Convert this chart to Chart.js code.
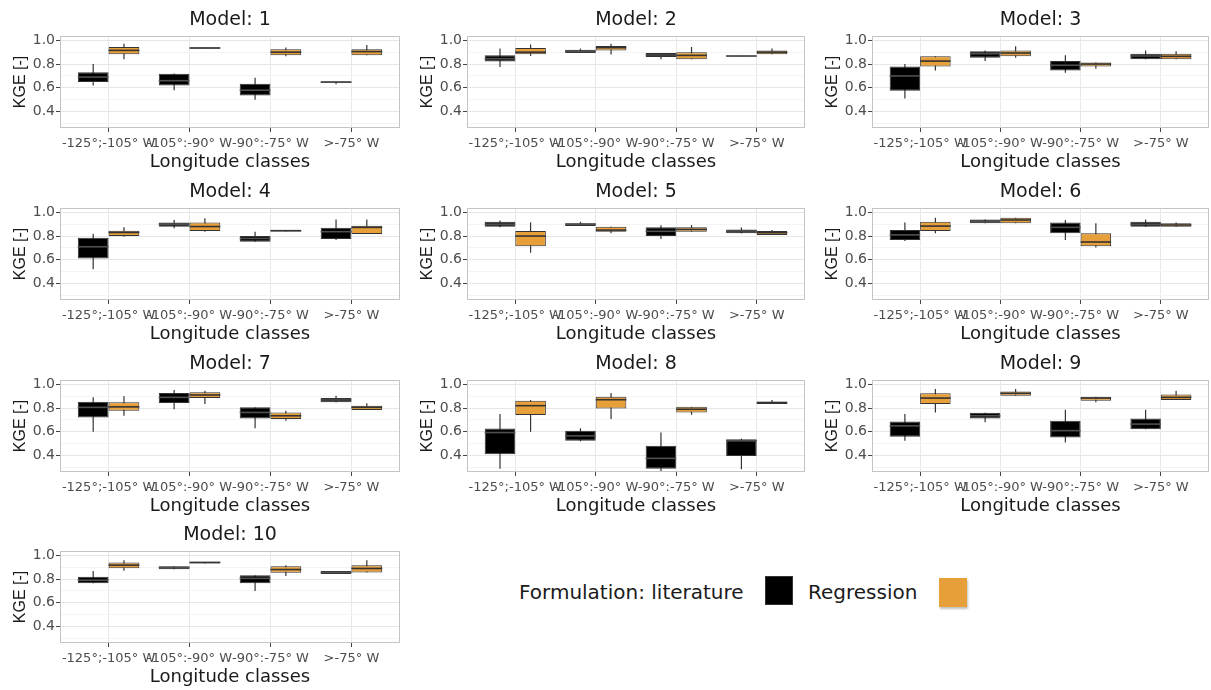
<!DOCTYPE html>
<html>
<head>
<meta charset="utf-8">
<script src="https://cdn.jsdelivr.net/npm/chart.js@4.4.0/dist/chart.umd.min.js"></script>
<style>
  body { margin: 0; width: 1211px; height: 690px; background: #fff; position: relative; overflow: hidden; font-family: 'DejaVu Sans', sans-serif; }
  canvas { position: absolute; }
  .lg-text { position: absolute; top: 578px; font-size: 20px; line-height: 28px; color: #1a1a1a; white-space: nowrap; }
  .lg-key { position: absolute; width: 28px; height: 29px; box-sizing: border-box; }
</style>
</head>
<body>
<div class="lg-text" style="left:519px">Formulation: literature</div>
<div class="lg-key" style="left:765px; top:576px; background:#000; border:1px solid #333"></div>
<div class="lg-text" style="left:808px">Regression</div>
<div class="lg-key" style="left:939px; top:578px; background:#E79F3A; box-shadow:1px 2px 2px rgba(0,0,0,0.25)"></div>

<script>
// Longitude classes (x axis) and models (panels)
const classes = ['-125°;-105° W', '-105°:-90° W', '-90°:-75° W', '>-75° W'];
const models = ['1', '2', '3', '4', '5', '6', '7', '8', '9', '10'];
const yTicks = [0.3, 0.4, 0.5, 0.6, 0.7, 0.8, 0.9, 1.0];

// Box statistics, one row per model, one value per longitude class
// Formulation: literature
const litMin = [
    [0.62, 0.58, 0.50, 0.63], [0.775, 0.893, 0.84, 0.862], [0.51, 0.825, 0.727, 0.84],
    [0.52, 0.865, 0.752, 0.766], [0.873, 0.885, 0.775, 0.823], [0.758, 0.907, 0.766, 0.879],
    [0.60, 0.79, 0.63, 0.848], [0.29, 0.52, 0.27, 0.285], [0.524, 0.68, 0.51, 0.622],
    [0.764, 0.883, 0.70, 0.842]
];
const litQ1 = [
    [0.648, 0.62, 0.535, 0.64], [0.822, 0.893, 0.859, 0.862], [0.575, 0.853, 0.746, 0.84],
    [0.611, 0.879, 0.752, 0.775], [0.879, 0.885, 0.80, 0.823], [0.766, 0.907, 0.823, 0.879],
    [0.72, 0.842, 0.713, 0.848], [0.411, 0.524, 0.29, 0.397], [0.558, 0.713, 0.552, 0.622],
    [0.764, 0.883, 0.764, 0.842]
];
const litMedian = [
    [0.69, 0.66, 0.58, 0.648], [0.845, 0.907, 0.876, 0.868], [0.70, 0.887, 0.79, 0.868],
    [0.71, 0.90, 0.78, 0.837], [0.90, 0.90, 0.84, 0.842], [0.81, 0.92, 0.873, 0.90],
    [0.806, 0.89, 0.763, 0.868], [0.594, 0.566, 0.377, 0.524], [0.65, 0.735, 0.61, 0.665],
    [0.79, 0.897, 0.806, 0.856]
];
const litQ3 = [
    [0.732, 0.718, 0.634, 0.655], [0.873, 0.921, 0.893, 0.872], [0.78, 0.907, 0.825, 0.887],
    [0.786, 0.915, 0.80, 0.87], [0.92, 0.907, 0.873, 0.856], [0.85, 0.94, 0.915, 0.92],
    [0.854, 0.927, 0.806, 0.884], [0.628, 0.608, 0.482, 0.538], [0.687, 0.76, 0.693, 0.713],
    [0.82, 0.908, 0.833, 0.867]
];
const litMax = [
    [0.80, 0.72, 0.685, 0.655], [0.93, 0.93, 0.893, 0.872], [0.80, 0.915, 0.873, 0.915],
    [0.82, 0.935, 0.837, 0.94], [0.93, 0.92, 0.89, 0.873], [0.915, 0.94, 0.935, 0.94],
    [0.89, 0.952, 0.806, 0.904], [0.75, 0.63, 0.594, 0.543], [0.75, 0.76, 0.786, 0.786],
    [0.867, 0.908, 0.833, 0.867]
];
// Formulation: Regression
const regMin = [
    [0.84, 0.93, 0.865, 0.873], [0.868, 0.88, 0.84, 0.882], [0.745, 0.853, 0.76, 0.84],
    [0.795, 0.837, 0.838, 0.817], [0.66, 0.823, 0.837, 0.808], [0.823, 0.907, 0.704, 0.879],
    [0.735, 0.834, 0.693, 0.783], [0.60, 0.707, 0.743, 0.834], [0.763, 0.904, 0.848, 0.868],
    [0.87, 0.93, 0.825, 0.856]
];
const regQ1 = [
    [0.882, 0.93, 0.873, 0.873], [0.882, 0.915, 0.84, 0.882], [0.78, 0.865, 0.78, 0.84],
    [0.80, 0.842, 0.838, 0.817], [0.715, 0.837, 0.837, 0.808], [0.842, 0.907, 0.715, 0.879],
    [0.777, 0.884, 0.707, 0.783], [0.741, 0.797, 0.763, 0.834], [0.834, 0.904, 0.862, 0.868],
    [0.89, 0.93, 0.853, 0.856]
];
const regMedian = [
    [0.915, 0.935, 0.90, 0.905], [0.90, 0.938, 0.873, 0.90], [0.825, 0.893, 0.80, 0.865],
    [0.83, 0.88, 0.845, 0.873], [0.80, 0.85, 0.856, 0.828], [0.884, 0.935, 0.75, 0.893],
    [0.81, 0.91, 0.735, 0.806], [0.82, 0.87, 0.79, 0.845], [0.884, 0.924, 0.884, 0.89],
    [0.917, 0.94, 0.88, 0.889]
];
const regQ3 = [
    [0.944, 0.94, 0.924, 0.924], [0.935, 0.952, 0.90, 0.915], [0.865, 0.915, 0.814, 0.887],
    [0.845, 0.913, 0.85, 0.887], [0.842, 0.879, 0.873, 0.842], [0.92, 0.955, 0.823, 0.907],
    [0.848, 0.932, 0.763, 0.82], [0.862, 0.896, 0.81, 0.856], [0.924, 0.94, 0.896, 0.913],
    [0.94, 0.944, 0.908, 0.917]
];
const regMax = [
    [0.97, 0.94, 0.94, 0.96], [0.965, 0.97, 0.944, 0.93], [0.865, 0.95, 0.814, 0.907],
    [0.873, 0.95, 0.85, 0.94], [0.915, 0.879, 0.893, 0.85], [0.955, 0.955, 0.907, 0.915],
    [0.90, 0.946, 0.777, 0.84], [0.868, 0.927, 0.81, 0.868], [0.96, 0.96, 0.896, 0.946],
    [0.958, 0.944, 0.917, 0.958]
];

// Panel layout (plot area position of each facet)
const colLeft = [60, 467, 872];
const colWidth = [340, 338, 337];
const rowTop = [36, 208, 380, 551];
const plotHeight = 92;
const yAxisWidth = 60, titleHeight = 36, xAxisHeight = 46;

const litColor = '#000000';
const regColor = '#E79F3A';

Chart.defaults.font.family = "'DejaVu Sans', sans-serif";
Chart.defaults.animation = false;

const isMajor = v => Math.round(v * 10) % 2 === 0;

// median line across every box
const medianPlugin = {
    id: 'medians',
    afterDatasetsDraw(chart) {
        const ctx = chart.ctx;
        const yScale = chart.scales.y;
        chart.data.datasets.forEach((ds, i) => {
            if (!ds.medians) return;
            chart.getDatasetMeta(i).data.forEach((bar, j) => {
                const py = yScale.getPixelForValue(ds.medians[j]);
                ctx.save();
                ctx.strokeStyle = ds.medianColor;
                ctx.lineWidth = 1.6;
                ctx.beginPath();
                ctx.moveTo(bar.x - bar.width / 2, py);
                ctx.lineTo(bar.x + bar.width / 2, py);
                ctx.stroke();
                ctx.restore();
            });
        });
    }
};

// panel border
const framePlugin = {
    id: 'frame',
    afterDraw(chart) {
        const {left, top, width, height} = chart.chartArea;
        const ctx = chart.ctx;
        ctx.save();
        ctx.strokeStyle = '#C4C4C4';
        ctx.lineWidth = 1;
        ctx.strokeRect(left + 0.5, top + 0.5, width - 1, height - 1);
        ctx.restore();
    }
};

function boxDataset(label, lo, hi, med, color, medColor, stack) {
    return {
        label: label,
        data: lo.map((v, k) => [v, hi[k]]),
        backgroundColor: color,
        borderColor: '#333333',
        borderWidth: 1,
        borderSkipped: false,
        categoryPercentage: 0.76,
        barPercentage: 1,
        stack: stack,
        order: 1,
        medians: med,
        medianColor: medColor
    };
}

function whiskerDataset(lo, hi, stack) {
    return {
        data: lo.map((v, k) => [v, hi[k]]),
        backgroundColor: '#333333',
        borderWidth: 0,
        categoryPercentage: 0.76,
        barPercentage: 1,
        maxBarThickness: 1.2,
        stack: stack,
        order: 2
    };
}

models.forEach((model, m) => {
    const col = m % 3, row = Math.floor(m / 3);
    const canvas = document.createElement('canvas');
    const w = yAxisWidth + colWidth[col] + 2;
    const h = titleHeight + plotHeight + xAxisHeight;
    canvas.width = w;
    canvas.height = h;
    canvas.style.left = (colLeft[col] - yAxisWidth) + 'px';
    canvas.style.top = (rowTop[row] - titleHeight) + 'px';
    document.body.appendChild(canvas);

    new Chart(canvas.getContext('2d'), {
        type: 'bar',
        data: {
            labels: classes,
            datasets: [
                boxDataset('literature', litQ1[m], litQ3[m], litMedian[m], litColor, '#505050', 'lit'),
                boxDataset('Regression', regQ1[m], regQ3[m], regMedian[m], regColor, '#333333', 'reg'),
                whiskerDataset(litMin[m], litMax[m], 'lit'),
                whiskerDataset(regMin[m], regMax[m], 'reg')
            ]
        },
        options: {
            responsive: false,
            maintainAspectRatio: false,
            layout: { padding: { left: 0, right: 2, top: 0, bottom: 0 } },
            plugins: {
                legend: { display: false },
                tooltip: { enabled: false },
                title: {
                    display: true,
                    text: 'Model: ' + model,
                    fullSize: false,
                    color: '#1A1A1A',
                    font: { size: 19, weight: 'normal', lineHeight: 1.2 },
                    padding: { top: 8.6, bottom: 4.6 }
                }
            },
            scales: {
                x: {
                    offset: true,
                    afterBuildTicks: s => { s._startValue = -0.6; s._valueRange = classes.length + 0.2; },
                    afterFit: s => { s.height = xAxisHeight; },
                    grid: { offset: false, color: '#E8E8E8', tickLength: 4, tickColor: '#444444' },
                    border: { display: false },
                    ticks: { autoSkip: false, maxRotation: 0, minRotation: 0, color: '#4D4D4D', font: { size: 13 }, padding: 4 },
                    title: { display: true, text: 'Longitude classes', color: '#1A1A1A', font: { size: 18, lineHeight: 1.2 }, padding: { top: 0, bottom: 1 } }
                },
                y: {
                    min: 0.262,
                    max: 1.036,
                    stacked: false,
                    afterBuildTicks: s => { s.ticks = yTicks.map(v => ({ value: v })); },
                    afterFit: s => { s.width = yAxisWidth; },
                    grid: {
                        color: c => (c.tick && isMajor(c.tick.value)) ? '#E6E6E6' : '#F4F4F4',
                        tickLength: 4,
                        tickColor: c => (c.tick && isMajor(c.tick.value)) ? '#444444' : 'rgba(0,0,0,0)'
                    },
                    border: { display: false },
                    ticks: {
                        autoSkip: false,
                        color: '#4D4D4D',
                        font: { size: 14 },
                        padding: 1,
                        callback: v => isMajor(v) ? v.toFixed(1) : ''
                    },
                    title: { display: true, text: 'KGE [-]', color: '#1A1A1A', font: { family: "'Liberation Sans', sans-serif", size: 16, lineHeight: 1.2 }, padding: { top: 11, bottom: 0 } }
                }
            }
        },
        plugins: [medianPlugin, framePlugin]
    });
});
</script>
</body>
</html>
